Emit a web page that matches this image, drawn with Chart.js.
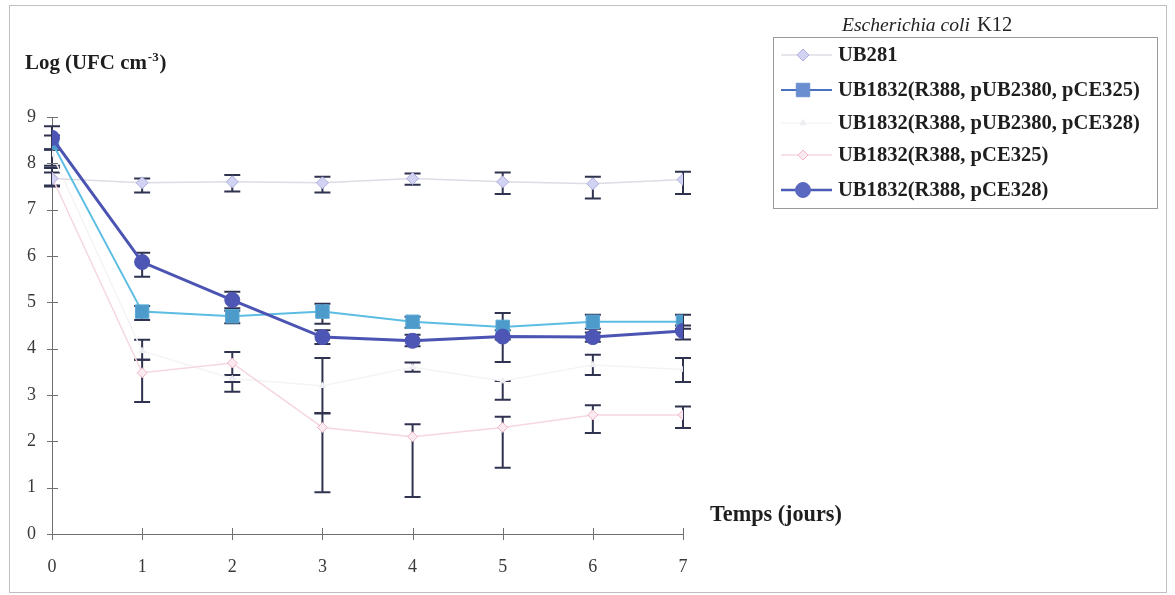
<!DOCTYPE html>
<html><head><meta charset="utf-8">
<script src="https://cdn.jsdelivr.net/npm/chart.js@4/dist/chart.umd.min.js"></script>
<style>html,body{margin:0;padding:0;background:#fff;}canvas{display:block}</style>
</head><body>
<canvas id="c" width="1175" height="595"></canvas>
<script>
// ---- data ----
const days = [0, 1, 2, 3, 4, 5, 6, 7];
const yTickValues = [0, 1, 2, 3, 4, 5, 6, 7, 8, 9];
const legendTitleItalic = 'Escherichia coli';
const legendTitleRoman = 'K12';
const yAxisTitle = 'Log (UFC cm';
const yAxisTitleSup = '-3';
const xAxisTitle = 'Temps (jours)';

const nameUB281 = 'UB281';
const nameA = 'UB1832(R388, pUB2380, pCE325)';
const nameB = 'UB1832(R388, pUB2380, pCE328)';
const nameC = 'UB1832(R388, pCE325)';
const nameD = 'UB1832(R388, pCE328)';

const ub281 =     [7.67, 7.58, 7.60, 7.58, 7.67, 7.60, 7.56, 7.65];
const ub281High = [7.80, 7.67, 7.75, 7.71, 7.78, 7.80, 7.71, 7.82];
const ub281Low =  [7.52, 7.37, 7.39, 7.37, 7.54, 7.34, 7.24, 7.34];

const seriesA =     [8.45, 4.80, 4.70, 4.80, 4.58, 4.47, 4.58, 4.58];
const seriesAHigh = [8.60, 4.92, 4.82, 4.97, 4.69, 4.77, 4.73, 4.73];
const seriesALow =  [8.30, 4.62, 4.55, 4.54, 4.45, 4.20, 4.43, 4.43];

const seriesB =     [8.20, 3.95, 3.35, 3.20, 3.60, 3.30, 3.65, 3.55];
const seriesBHigh = [8.30, 4.19, 3.43, 3.80, 3.70, 3.30, 3.87, 3.80];
const seriesBLow =  [7.95, 3.76, 3.28, 2.60, 3.50, 2.90, 3.43, 3.28];

const seriesC =     [7.70, 3.48, 3.69, 2.30, 2.10, 2.30, 2.57, 2.57];
const seriesCHigh = [7.90, 3.76, 3.93, 2.61, 2.37, 2.53, 2.78, 2.75];
const seriesCLow =  [7.50, 2.85, 3.07, 0.90, 0.80, 1.43, 2.18, 2.29];

const seriesD =     [8.55, 5.87, 5.05, 4.25, 4.17, 4.26, 4.25, 4.38];
const seriesDHigh = [8.80, 6.07, 5.23, 4.40, 4.30, 4.40, 4.35, 4.50];
const seriesDLow =  [8.30, 5.55, 4.87, 4.10, 4.05, 3.71, 4.15, 4.20];

const toPts = vals => days.map((d, i) => ({x: d, y: vals[i]}));

const SERIF = '"Liberation Serif", "DejaVu Serif", serif';

const datasets = [
  {label: nameUB281, data: toPts(ub281), hi: ub281High, lo: ub281Low,
   borderColor: '#dcdce4', borderWidth: 1.5, pointStyle: 'rectRot', pointRadius: 6,
   pointBackgroundColor: '#d2d2f2', pointBorderColor: '#adaddf', pointBorderWidth: 1,
   legendLine: '#dcdce4', order: 2},
  {label: nameA, data: toPts(seriesA), hi: seriesAHigh, lo: seriesALow,
   borderColor: '#5cbde2', borderWidth: 2, pointStyle: 'rect', pointRadius: 9.5,
   pointBackgroundColor: '#4c9bcb', pointBorderColor: '#5aa7d5', pointBorderWidth: 1,
   legendLine: '#4a70c0', legendPoint: '#6a8ed0', order: 1},
  {label: nameB, data: toPts(seriesB), hi: seriesBHigh, lo: seriesBLow,
   borderColor: '#f4f4f6', borderWidth: 1.5, pointStyle: 'triangle', pointRadius: 3.5,
   pointBackgroundColor: '#f0f0f3', pointBorderColor: '#ececf0', pointBorderWidth: 1,
   legendLine: '#f4f4f6', order: 4},
  {label: nameC, data: toPts(seriesC), hi: seriesCHigh, lo: seriesCLow,
   borderColor: '#f5d8df', borderWidth: 1.5, pointStyle: 'rectRot', pointRadius: 5,
   pointBackgroundColor: '#fbeaf0', pointBorderColor: '#f0b6c8', pointBorderWidth: 1,
   legendLine: '#f5d8df', order: 3},
  {label: nameD, data: toPts(seriesD), hi: seriesDHigh, lo: seriesDLow,
   borderColor: '#4b54b3', borderWidth: 3, pointStyle: 'circle', pointRadius: 7.5,
   pointBackgroundColor: '#4d55b5', pointBorderColor: '#4d55b5', pointBorderWidth: 1,
   legendLine: '#4a5cb8', legendPoint: '#5a68c0', order: 0}
];

function fitFont(ctx, text, style, targetW) {
  ctx.font = style + ' 20px ' + SERIF;
  const w = ctx.measureText(text).width;
  return 20 * targetW / w;
}

const errorBars = {
  id: 'errorBars',
  beforeDatasetsDraw(chart) {
    const ctx = chart.ctx, ys = chart.scales.y, xs = chart.scales.x;
    ctx.save();
    ctx.strokeStyle = '#2f3350';
    ctx.lineWidth = 2;
    chart.data.datasets.forEach(ds => {
      days.forEach((d, i) => {
        const px = xs.getPixelForValue(d);
        const yh = ys.getPixelForValue(ds.hi[i]);
        const yl = ys.getPixelForValue(ds.lo[i]);
        ctx.beginPath();
        ctx.moveTo(px, yh); ctx.lineTo(px, yl);
        ctx.moveTo(px - 8, yh); ctx.lineTo(px + 8, yh);
        ctx.moveTo(px - 8, yl); ctx.lineTo(px + 8, yl);
        ctx.stroke();
      });
    });
    ctx.restore();
  }
};

const decorations = {
  id: 'decorations',
  beforeDraw(chart) {
    const ctx = chart.ctx;
    ctx.save();
    ctx.fillStyle = '#fff';
    ctx.fillRect(0, 0, chart.width, chart.height);
    ctx.strokeStyle = '#c0c0c0';
    ctx.lineWidth = 1;
    ctx.strokeRect(9.5, 5.5, 1157, 587);
    ctx.restore();
  },
  afterDraw(chart) {
    const ctx = chart.ctx, ys = chart.scales.y, xs = chart.scales.x;
    const area = chart.chartArea;
    ctx.save();
    // crossing tick marks
    ctx.strokeStyle = '#707070';
    ctx.lineWidth = 1;
    yTickValues.forEach(v => {
      const p = Math.round(ys.getPixelForValue(v)) + 0.5;
      ctx.beginPath(); ctx.moveTo(area.left - 5, p); ctx.lineTo(area.left + 6, p); ctx.stroke();
    });
    days.forEach(v => {
      const p = Math.round(xs.getPixelForValue(v)) + 0.5;
      ctx.beginPath(); ctx.moveTo(p, area.bottom - 6); ctx.lineTo(p, area.bottom + 6); ctx.stroke();
    });

    // axis titles
    ctx.fillStyle = '#1e1e1e';
    ctx.textBaseline = 'alphabetic';
    ctx.textAlign = 'left';
    const fs = fitFont(ctx, xAxisTitle, 'bold', 132);
    ctx.font = 'bold ' + fs + 'px ' + SERIF;
    ctx.fillText(xAxisTitle, 710, 521);

    const fy = fs * 0.94;
    ctx.font = 'bold ' + fy + 'px ' + SERIF;
    const w1 = ctx.measureText(yAxisTitle).width;
    ctx.fillText(yAxisTitle, 25, 69);
    ctx.font = 'bold ' + (fy * 0.62) + 'px ' + SERIF;
    const w2 = ctx.measureText(yAxisTitleSup).width;
    ctx.fillText(yAxisTitleSup, 25 + w1 + 1, 61);
    ctx.font = 'bold ' + fy + 'px ' + SERIF;
    ctx.fillText(')', 25 + w1 + w2 + 2, 69);

    // legend title
    ctx.fillStyle = '#222';
    const ts = fitFont(ctx, legendTitleItalic, 'italic', 128);
    ctx.font = 'italic ' + ts + 'px ' + SERIF;
    ctx.fillText(legendTitleItalic, 842, 31);
    const wi = ctx.measureText(legendTitleItalic).width;
    ctx.font = (ts * 1.05) + 'px ' + SERIF;
    ctx.fillText(legendTitleRoman, 842 + wi + 7, 31);

    // legend box
    ctx.strokeStyle = '#9a9a9a';
    ctx.lineWidth = 1;
    ctx.strokeRect(773.5, 37.5, 384, 171);
    const rowY = [55, 90, 123, 155, 190];
    const ls = fitFont(ctx, nameB, 'bold', 302);
    chart.data.datasets.forEach((ds, i) => {
      const y = rowY[i];
      ctx.strokeStyle = ds.legendLine;
      ctx.lineWidth = ds.borderWidth === 3 ? 2.5 : ds.borderWidth;
      ctx.beginPath(); ctx.moveTo(781, y); ctx.lineTo(832, y); ctx.stroke();
      ctx.fillStyle = ds.legendPoint || ds.pointBackgroundColor;
      ctx.strokeStyle = ds.legendPoint || ds.pointBorderColor;
      ctx.lineWidth = ds.pointBorderWidth;
      Chart.helpers.drawPoint(ctx, {
        pointStyle: ds.pointStyle, radius: ds.pointRadius, rotation: 0, borderWidth: ds.pointBorderWidth
      }, 803, y);
      ctx.fillStyle = '#1e1e1e';
      ctx.font = 'bold ' + ls + 'px ' + SERIF;
      ctx.textBaseline = 'middle';
      ctx.fillText(ds.label, 838, y + 1);
    });
    ctx.restore();
  }
};

new Chart(document.getElementById('c'), {
  type: 'line',
  data: {datasets: datasets},
  plugins: [decorations, errorBars],
  options: {
    responsive: false,
    animation: false,
    events: [],
    layout: {padding: {left: 10, top: 117, right: 1175 - 683, bottom: 10}},
    plugins: {legend: {display: false}, tooltip: {enabled: false}, title: {display: false}},
    elements: {line: {tension: 0}},
    scales: {
      x: {
        type: 'linear', min: 0, max: 7,
        afterFit(s) { s.height = 595 - 534 - 10; },
        afterBuildTicks(s) { s.ticks = days.map(v => ({value: v})); },
        grid: {display: false, drawTicks: false},
        border: {display: true, color: '#6e6e6e', width: 1},
        ticks: {color: '#3a3a3a', padding: 22, font: {family: SERIF, size: 18}}
      },
      y: {
        type: 'linear', min: 0, max: 9,
        afterFit(s) { s.width = 52 - 10; },
        afterBuildTicks(s) { s.ticks = yTickValues.map(v => ({value: v})); },
        grid: {display: false, drawTicks: false},
        border: {display: true, color: '#6e6e6e', width: 1},
        ticks: {color: '#3a3a3a', padding: 16, font: {family: SERIF, size: 18}}
      }
    }
  }
});
</script>
</body></html>
